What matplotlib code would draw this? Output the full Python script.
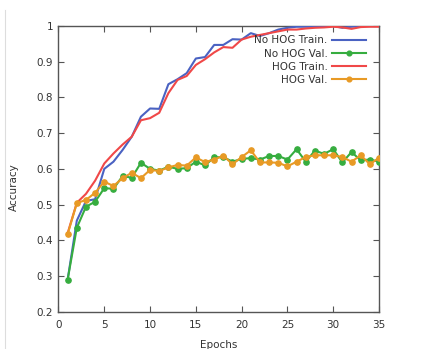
import matplotlib
matplotlib.use("Agg")
import matplotlib.pyplot as plt
from matplotlib.lines import Line2D

epochs = list(range(1, 36))

nohog_train = [0.29, 0.455, 0.51, 0.515, 0.60, 0.62, 0.653, 0.69, 0.746, 0.769,
               0.768, 0.837, 0.851, 0.868, 0.909, 0.913, 0.947, 0.947, 0.963, 0.962,
               0.98, 0.972, 0.98, 0.99, 0.995, 0.998, 0.998, 0.998, 1.0, 1.0,
               0.995, 0.998, 1.0, 1.0, 1.0]
nohog_val = [0.29, 0.435, 0.494, 0.508, 0.546, 0.544, 0.58, 0.575, 0.617, 0.60,
             0.595, 0.606, 0.60, 0.602, 0.62, 0.61, 0.632, 0.633, 0.62, 0.628,
             0.63, 0.626, 0.636, 0.636, 0.626, 0.655, 0.62, 0.651, 0.642, 0.655,
             0.618, 0.647, 0.624, 0.626, 0.62]
hog_train = [0.42, 0.505, 0.53, 0.567, 0.615, 0.643, 0.668, 0.69, 0.736, 0.742,
             0.757, 0.812, 0.849, 0.86, 0.891, 0.907, 0.926, 0.941, 0.939, 0.962,
             0.97, 0.975, 0.98, 0.985, 0.99, 0.99, 0.993, 0.995, 0.996, 0.998,
             0.996, 0.992, 0.997, 0.998, 0.998]
hog_val = [0.417, 0.504, 0.513, 0.533, 0.564, 0.552, 0.574, 0.589, 0.574, 0.597,
           0.594, 0.604, 0.611, 0.609, 0.632, 0.619, 0.626, 0.637, 0.613, 0.633,
           0.652, 0.618, 0.618, 0.617, 0.607, 0.62, 0.633, 0.638, 0.638, 0.638,
           0.633, 0.62, 0.638, 0.613, 0.631]

labels = ["No HOG Train.", "No HOG Val.", "HOG Train.", "HOG Val."]
colors = ["#4a62c2", "#36ad3f", "#f04848", "#e89a25"]
xticks = [0, 5, 10, 15, 20, 25, 30, 35]
yticks = [0.2, 0.3, 0.4, 0.5, 0.6, 0.7, 0.8, 0.9, 1.0]
yticklabels = ["0.2", "0.3", "0.4", "0.5", "0.6", "0.7", "0.8", "0.9", "1"]

plt.rcParams['font.family'] = ['DejaVu Sans']
fs = 7.5
textc = "#333333"

fig = plt.figure(figsize=(4.29, 3.49), dpi=100)
W, H = 429, 349
l, r, t, b = 58.5, 379, 26, 311.7
ax = fig.add_axes([l / W, 1 - b / H, (r - l) / W, (b - t) / H])

ax.plot(epochs, nohog_train, color=colors[0], lw=1.5, label=labels[0], zorder=3)
ax.plot(epochs, nohog_val, color=colors[1], lw=1.5, marker='o', ms=3.8,
        label=labels[1], zorder=4)
ax.plot(epochs, hog_train, color=colors[2], lw=1.5, label=labels[2], zorder=3)
ax.plot(epochs, hog_val, color=colors[3], lw=1.5, marker='o', ms=3.8,
        label=labels[3], zorder=4)

ax.set_xlim(0, 35)
ax.set_ylim(0.2, 1.0)
ax.set_xticks(xticks)
ax.set_yticks(yticks)
ax.set_yticklabels(yticklabels)
ax.tick_params(direction='in', length=4, width=0.8, top=True, right=True,
               labelsize=fs, labelcolor=textc, color="#555555", pad=4)
ax.tick_params(axis='x', pad=6)
for s in ax.spines.values():
    s.set_color("#555555")
    s.set_linewidth(1.0)

leg = ax.legend(loc='upper right', bbox_to_anchor=(0.9594, 0.967),
                frameon=False, markerfirst=False, fontsize=fs,
                handlelength=3.3, handletextpad=0.4, labelspacing=0.3,
                borderpad=0, borderaxespad=0, markerscale=0.9)
for txt in leg.get_texts():
    txt.set_color(textc)

fig.text(14 / W, 1 - 187 / H, "Accuracy", rotation=90, fontsize=fs,
         color=textc, ha='center', va='center')
fig.text(218.8 / W, 1 - 345 / H, "Epochs", fontsize=fs, color=textc,
         ha='center', va='center')

fig.add_artist(Line2D([5 / W, 5 / W], [0, 1 - 10 / H], transform=fig.transFigure,
                      color="#dddddd", lw=0.8))

fig.savefig("out.png", dpi=100)
